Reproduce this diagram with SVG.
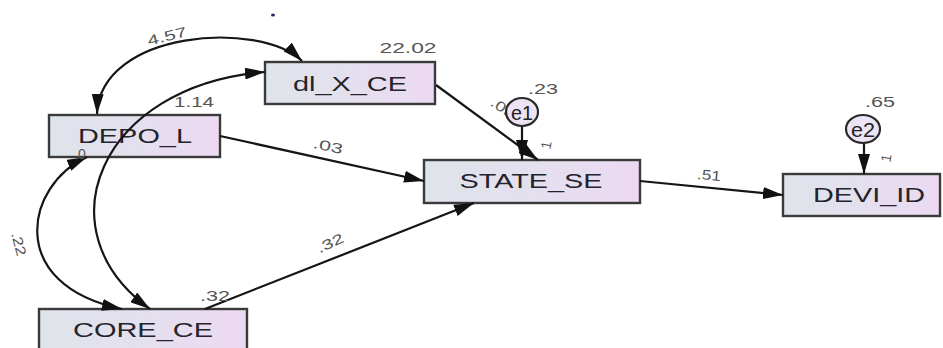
<svg xmlns="http://www.w3.org/2000/svg" width="943" height="348" viewBox="0 0 943 348">
  <defs>
    <linearGradient id="boxFill" x1="0" y1="0" x2="1" y2="0">
      <stop offset="0" stop-color="#dfe4ea"/>
      <stop offset="0.5" stop-color="#e4e0ee"/>
      <stop offset="1" stop-color="#ecd9f2"/>
    </linearGradient>
    <marker id="arrow" viewBox="0 0 20 12" refX="20" refY="6" markerWidth="20" markerHeight="12" markerUnits="userSpaceOnUse" orient="auto-start-reverse">
      <path d="M0,0 L20,6 L0,12 Z" fill="#111"/>
    </marker>
  </defs>
  <style>
    .box { fill: url(#boxFill); stroke: #3a3a3a; stroke-width: 2.4; }
    .err { fill: #ece4f4; stroke: #2a2a2a; stroke-width: 2.2; }
    .name { font-family: "Liberation Sans", Arial, sans-serif; font-size: 20px; fill: #24242c; text-anchor: middle; dominant-baseline: central; }
    .ename { font-family: "Liberation Sans", Arial, sans-serif; font-size: 21px; fill: #222; text-anchor: middle; dominant-baseline: central; }
    .lbl { font-family: "Liberation Sans", Arial, sans-serif; font-size: 14px; fill: #555; text-anchor: middle; dominant-baseline: central; }
    .edge { fill: none; stroke: #151515; stroke-width: 2.2; }
  </style>
  <rect width="943" height="348" fill="#ffffff"/>

  <!-- stray mark -->
  <ellipse cx="273" cy="15" rx="2" ry="1.5" fill="#2a2a66"/>

  <!-- observed variables -->
  <g id="dl_X_CE">
    <rect class="box" x="265" y="62" width="170" height="42"/>
    <text class="name" x="350" y="84" textLength="114" lengthAdjust="spacingAndGlyphs">dl_X_CE</text>
  </g>
  <g id="DEPO_L">
    <rect class="box" x="49" y="115" width="171" height="42"/>
    <text class="name" x="135" y="136" textLength="114" lengthAdjust="spacingAndGlyphs">DEPO_L</text>
  </g>
  <g id="STATE_SE">
    <rect class="box" x="424" y="160" width="216" height="43"/>
    <text class="name" x="531" y="181" textLength="143" lengthAdjust="spacingAndGlyphs">STATE_SE</text>
  </g>
  <g id="DEVI_ID">
    <rect class="box" x="783" y="174" width="157" height="42"/>
    <text class="name" x="869" y="195" textLength="112" lengthAdjust="spacingAndGlyphs">DEVI_ID</text>
  </g>
  <g id="CORE_CE">
    <rect class="box" x="39" y="309" width="208" height="46"/>
    <text class="name" x="143" y="330" textLength="140" lengthAdjust="spacingAndGlyphs">CORE_CE</text>
  </g>

  <!-- connectors -->
  <g id="connectors">
    <!-- covariances -->
    <path class="edge" d="M97,114 C100,30 260,20 302,61" marker-start="url(#arrow)" marker-end="url(#arrow)"/>
    <path class="edge" d="M265,72 C100,85 40,230 150,309" marker-start="url(#arrow)" marker-end="url(#arrow)"/>
    <path class="edge" d="M87,157 C25,185 5,285 122,309" marker-start="url(#arrow)" marker-end="url(#arrow)"/>
    <!-- regressions -->
    <path class="edge" d="M220,136 L424,181" marker-end="url(#arrow)"/>
    <path class="edge" d="M436,85 L538,160" marker-end="url(#arrow)"/>
    <path class="edge" d="M205,309 L474,203" marker-end="url(#arrow)"/>
    <path class="edge" d="M640,181 L783,195" marker-end="url(#arrow)"/>
    <path class="edge" d="M522,126 L522,160" marker-end="url(#arrow)"/>
    <path class="edge" d="M864,143 L864,174" marker-end="url(#arrow)"/>
  </g>

  <!-- estimates -->
  <g id="labels">
    <text class="lbl" x="167" y="36" textLength="40" lengthAdjust="spacingAndGlyphs" transform="rotate(-14 167 36)">4.57</text>
    <text class="lbl" x="194" y="102" textLength="40" lengthAdjust="spacingAndGlyphs">1.14</text>
    <text class="lbl" x="408" y="48" textLength="57" lengthAdjust="spacingAndGlyphs">22.02</text>
    <text class="lbl" x="328" y="146" textLength="30" lengthAdjust="spacingAndGlyphs" transform="rotate(12 328 146)">.03</text>
    <text class="lbl" x="330" y="243" textLength="28" lengthAdjust="spacingAndGlyphs" transform="rotate(-25 330 243)">.32</text>
    <text class="lbl" x="215" y="296" textLength="30" lengthAdjust="spacingAndGlyphs">.32</text>
    <text class="lbl" x="709" y="175" textLength="24" lengthAdjust="spacingAndGlyphs" transform="rotate(5 709 175)">.51</text>
    <text class="lbl" x="19" y="244" textLength="24" lengthAdjust="spacingAndGlyphs" transform="rotate(75 19 244)">.22</text>
    <text class="lbl" x="543" y="89" textLength="30" lengthAdjust="spacingAndGlyphs">.23</text>
    <text class="lbl" x="880" y="102" textLength="30" lengthAdjust="spacingAndGlyphs">.65</text>
    <text class="lbl" x="503" y="108" textLength="26" lengthAdjust="spacingAndGlyphs" transform="rotate(35 503 108)">.05</text>
    <text class="lbl" x="82" y="154" font-size="10">0</text>
    <text class="lbl" x="546" y="145" font-size="10" transform="rotate(-80 546 145)">1</text>
    <text class="lbl" x="886" y="158" font-size="10" transform="rotate(-80 886 158)">1</text>
  </g>

  <!-- error terms -->
  <g id="e1">
    <ellipse class="err" cx="522" cy="112" rx="16" ry="14"/>
    <text class="ename" x="522" y="112" textLength="22" lengthAdjust="spacingAndGlyphs">e1</text>
  </g>
  <g id="e2">
    <ellipse class="err" cx="863" cy="129" rx="17" ry="14"/>
    <text class="ename" x="863" y="129" textLength="24" lengthAdjust="spacingAndGlyphs">e2</text>
  </g>
</svg>
